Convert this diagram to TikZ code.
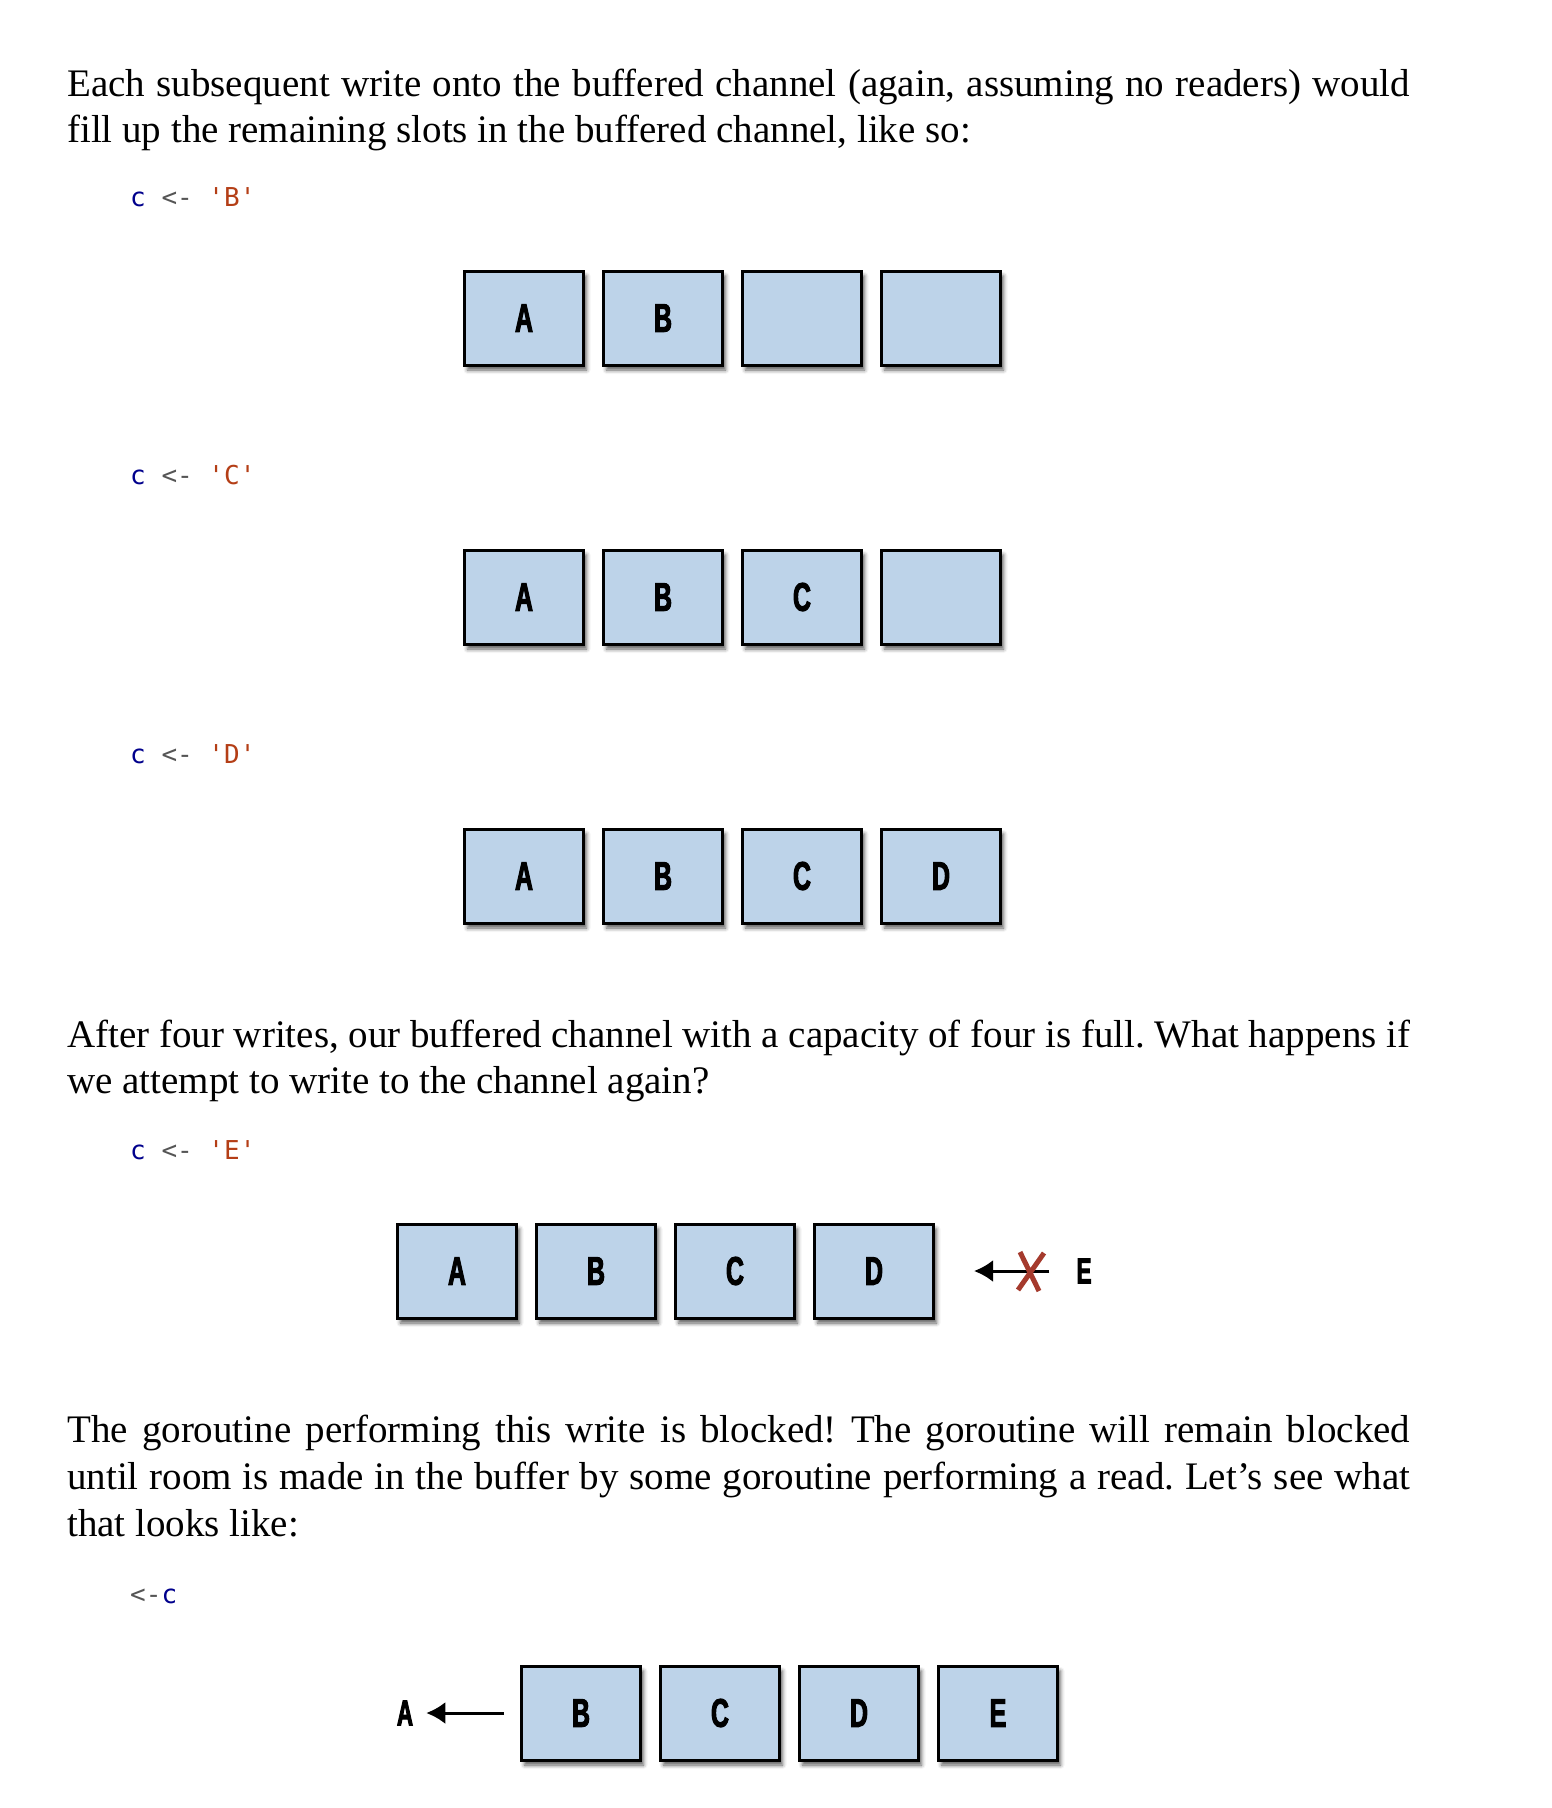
\documentclass[tikz,border=0pt]{standalone}
\usepackage{fontspec}
\setmainfont{Liberation Serif}
\newfontfamily\codefont{DejaVu Sans Mono}
\newfontfamily\slotfont{Liberation Sans Bold}[FakeStretch=0.62,FakeBold=2.5]
\usetikzlibrary{arrows.meta,shadows.blur,positioning}

\definecolor{slotblue}{RGB}{189,211,233}
\definecolor{kwblue}{RGB}{0,0,140}
\definecolor{opgray}{RGB}{85,85,85}
\definecolor{strred}{RGB}{180,62,22}
\definecolor{crossred}{RGB}{165,58,45}

\newcommand{\fullline}[1]{\makebox[1343pt][s]{#1}}
\newcommand{\sendop}[1]{\textcolor{kwblue}{c} \textcolor{opgray}{<-} \textcolor{strred}{\textquotesingle#1\textquotesingle}}

\begin{document}
\frenchspacing
\begin{tikzpicture}[x=1pt,y=-1pt,
    bodytext/.style={anchor=base west,inner sep=0pt,font=\fontsize{39}{46}\selectfont},
    codetext/.style={anchor=base west,inner sep=0pt,font=\codefont\fontsize{26}{30}\selectfont},
    slot/.style={draw=black,line width=3pt,fill=slotblue,minimum width=119pt,minimum height=94pt,
        inner sep=0pt,font=\slotfont\fontsize{40}{40}\selectfont,
        blur shadow={shadow xshift=3pt,shadow yshift=-5pt,shadow blur radius=4pt,shadow opacity=65}},
    letter/.style={inner sep=0pt,font=\slotfont\fontsize{36}{36}\selectfont},
    push/.style={line width=3pt,-{Latex[length=19pt,width=22pt]}}]
    \useasboundingbox (0,0) rectangle (1552,1808);

    \node[bodytext] (p1a) at (67,96) {\fullline{Each subsequent write onto the buffered channel (again, assuming no readers) would}};
    \node[bodytext] (p1b) at (67,142) {fill up the remaining slots in the buffered channel, like so:};

    % second write
    \node[codetext] (w2) at (130,206) {\sendop{B}};
    \foreach \l [count=\i] in {A,B,{},{}}
        \node[slot] (r1s\i) at (385+139*\i,318) {\l};

    % third write
    \node[codetext] (w3) at (130,484) {\sendop{C}};
    \foreach \l [count=\i] in {A,B,C,{}}
        \node[slot] (r2s\i) at (385+139*\i,597) {\l};

    % fourth write
    \node[codetext] (w4) at (130,763) {\sendop{D}};
    \foreach \l [count=\i] in {A,B,C,D}
        \node[slot] (r3s\i) at (385+139*\i,876) {\l};

    \node[bodytext] (p2a) at (67,1047) {\fullline{After four writes, our buffered channel with a capacity of four is full. What happens if}};
    \node[bodytext] (p2b) at (67,1093) {we attempt to write to the channel again?};

    % fifth write blocks
    \node[codetext] (w5) at (130,1159) {\sendop{E}};
    \foreach \l [count=\i] in {A,B,C,D}
        \node[slot] (r4s\i) at (318+139*\i,1271) {\l};
    \node[letter] (inE) at (1084,1271) {E};
    \draw[push] ([xshift=-27pt]inE.west) -- ([xshift=39pt]r4s4.east);
    \coordinate (cross) at (1031,1271);
    \draw[crossred,line width=5pt] ([shift={(-11,-19)}]cross) -- ([shift={(8,20)}]cross)
        ([shift={(13,-18)}]cross) -- ([shift={(-13,19)}]cross);

    \node[bodytext] (p3a) at (67,1442) {\fullline{The goroutine performing this write is blocked! The goroutine will remain blocked}};
    \node[bodytext] (p3b) at (67,1489) {\fullline{until room is made in the buffer by some goroutine performing a read. Let’s see what}};
    \node[bodytext] (p3c) at (67,1536) {that looks like:};

    % read
    \node[codetext] (rd) at (130,1603) {\textcolor{opgray}{<-}\textcolor{kwblue}{c}};
    \foreach \l [count=\i] in {B,C,D,E}
        \node[slot] (r5s\i) at (442+139*\i,1713) {\l};
    \node[letter] (outA) at (405,1713) {A};
    \draw[push] ([xshift=-16pt]r5s1.west) -- ([xshift=13pt]outA.east);
\end{tikzpicture}
\end{document}
